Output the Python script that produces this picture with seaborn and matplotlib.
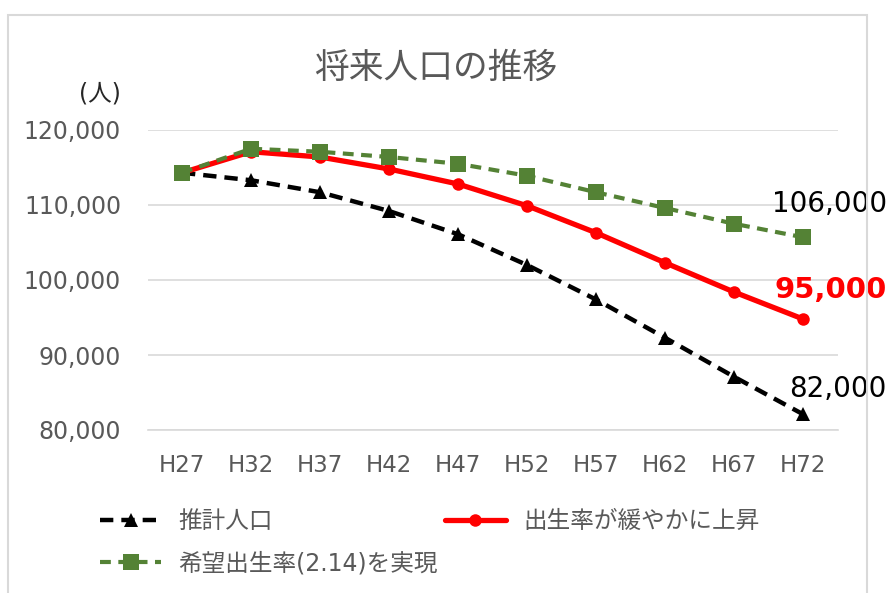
import numpy as np
import seaborn as sns
import matplotlib.pyplot as plt
from matplotlib.patches import Rectangle

# --- données ---
categories = ["H27", "H32", "H37", "H42", "H47", "H52", "H57", "H62", "H67", "H72"]
suikei = [114300, 113300, 111700, 109200, 106100, 102000, 97400, 92300, 87100, 82100]
yuruyaka = [114300, 117100, 116400, 114800, 112800, 109900, 106300, 102300, 98400, 94800]
kibou = [114300, 117500, 117100, 116400, 115500, 113900, 111700, 109600, 107500, 105700]
labels = ["推計人口", "出生率が緩やかに上昇", "希望出生率(2.14)を実現"]
end_labels = ["82,000", "95,000", "106,000"]

sns.set_style("white")
plt.rcParams['font.family'] = ['DejaVu Sans', 'Noto Sans CJK JP']

W, H = 891, 593
fig = plt.figure(figsize=(W / 100, H / 100), dpi=100)
ax = fig.add_axes([147.5 / W, 1 - 430 / H, 690 / W, 300 / H])

pos = np.arange(len(categories))
grey_txt = "#595959"
green = "#548235"

sns.lineplot(x=pos, y=suikei, ax=ax, color="black", linewidth=3.2,
             linestyle=(0, (3, 1.8)), marker="^", markersize=10.5,
             markeredgecolor="black", markeredgewidth=0, label=labels[0])
sns.lineplot(x=pos, y=yuruyaka, ax=ax, color="red", linewidth=3.8,
             marker="o", markersize=9, markeredgecolor="red",
             markeredgewidth=0, label=labels[1])
sns.lineplot(x=pos, y=kibou, ax=ax, color=green, linewidth=3,
             linestyle=(0, (2.6, 1.8)), marker="s", markersize=11.5,
             markeredgecolor=green, markeredgewidth=0, label=labels[2])

ax.set_xlim(-0.5, len(categories) - 0.5)
ax.set_ylim(80000, 120000)
ax.set_xticks(pos)
ax.set_xticklabels(categories)
ax.set_yticks([80000, 90000, 100000, 110000, 120000])
ax.set_yticklabels([f"{v:,}" for v in ax.get_yticks().astype(int)])
ax.tick_params(axis="both", length=0, labelsize=16.5, colors=grey_txt)
ax.tick_params(axis="y", labelsize=17, pad=19)
ax.tick_params(axis="x", pad=17)
ax.grid(axis="y", color="#d9d9d9", linewidth=1.2)
ax.set_axisbelow(True)
for s in ["left", "right", "top"]:
    ax.spines[s].set_visible(False)
ax.spines["bottom"].set_color("#d9d9d9")
ax.spines["bottom"].set_linewidth(1.2)
ax.set_xlabel("")
ax.set_ylabel("")

# --- valeurs finales ---
last = len(categories) - 1
ax.annotate(end_labels[0], (last, suikei[-1]), xytext=(35, 25),
            textcoords="offset pixels", ha="center", va="center",
            fontsize=20, color="black")
ax.annotate(end_labels[1], (last, yuruyaka[-1]), xytext=(28, 29),
            textcoords="offset pixels", ha="center", va="center",
            fontsize=21, color="red", fontweight="bold")
ax.annotate(end_labels[2], (last, kibou[-1]), xytext=(27, 33),
            textcoords="offset pixels", ha="center", va="center",
            fontsize=20, color="black")

# --- titre, unité ---
fig.text(436 / W, 1 - 68 / H, "将来人口の推移", ha="center", va="center",
         fontsize=25, color=grey_txt)
fig.text(100 / W, 1 - 93 / H, "(人)", ha="center", va="center",
         fontsize=17, color="#262626")

# --- légende ---
handles, lbls = ax.get_legend_handles_labels()
ax.get_legend().remove()
order = [0, 2, 1]
leg = fig.legend([handles[i] for i in order], [lbls[i] for i in order],
                 loc="upper left", bbox_to_anchor=(88 / W, 1 - 497 / H),
                 ncol=2, frameon=False, fontsize=17, borderpad=0,
                 handlelength=2.6, handletextpad=0.72, columnspacing=0.3,
                 labelspacing=0.8)
for t in leg.get_texts():
    t.set_color(grey_txt)

# --- cadre ---
fig.patches.append(Rectangle((8 / W, -0.1), 859 / W, 1.1 - 15 / H,
                             transform=fig.transFigure, fill=False,
                             edgecolor="#d9d9d9", linewidth=1.5))

fig.savefig("out.png", dpi=100)
